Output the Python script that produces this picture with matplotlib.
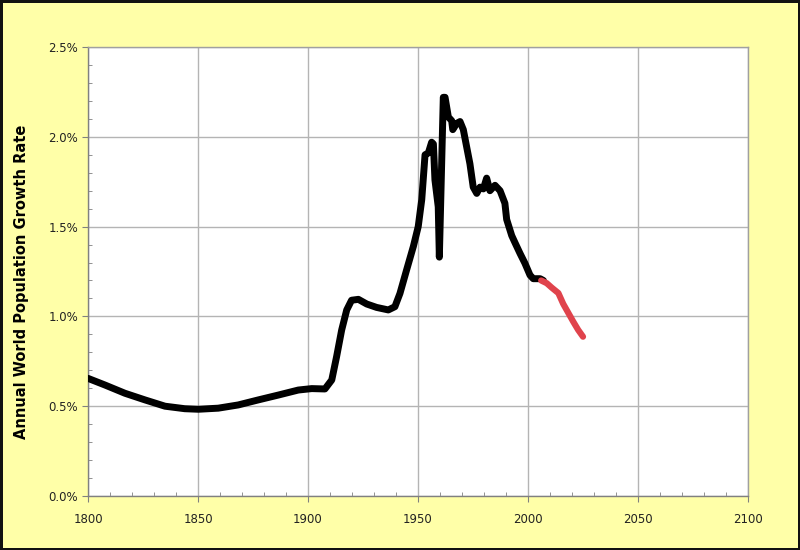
import numpy as np
import matplotlib.pyplot as plt
from matplotlib.ticker import MultipleLocator, FuncFormatter

# estimated annual world population growth rate (%)
years_hist = [1800, 1807.7, 1816.8, 1825.9, 1835, 1844, 1850.2, 1859.2,
              1868.3, 1877.4, 1886.5, 1895.6, 1901.7, 1907.7, 1910.8, 1913,
              1915.3, 1917.6, 1919.8, 1922.9, 1926.7, 1931.2, 1936.5, 1939.5,
              1941.8, 1944.8, 1947.9, 1950.1, 1951.7, 1953.2, 1954.7, 1956.2,
              1957, 1957.7, 1959.2, 1959.7, 1961.5, 1962.3, 1963.8, 1965.3,
              1965.8, 1967.6, 1969.1, 1970.6, 1972.1, 1973.6, 1975.1, 1976.7,
              1978.2, 1979.7, 1981.2, 1982.7, 1985, 1987.3, 1989.5, 1990.3,
              1992.6, 1994.1, 1996.4, 1998.6, 2000.9, 2002.4, 2005.5, 2007]
rate_hist = [0.655, 0.618, 0.572, 0.535, 0.50, 0.486, 0.483, 0.489,
             0.507, 0.535, 0.562, 0.59, 0.598, 0.596, 0.646, 0.776,
             0.924, 1.036, 1.09, 1.095, 1.069, 1.05, 1.036, 1.054,
             1.128, 1.258, 1.39, 1.50, 1.65, 1.90, 1.91, 1.97,
             1.96, 1.76, 1.61, 1.33, 2.22, 2.22, 2.11, 2.09,
             2.04, 2.075, 2.085, 2.04, 1.945, 1.85, 1.72, 1.685,
             1.72, 1.71, 1.77, 1.70, 1.73, 1.70, 1.63, 1.54,
             1.45, 1.41, 1.35, 1.296, 1.23, 1.21, 1.21, 1.20]

years_proj = [2006, 2008.5, 2010.8, 2013.8, 2016, 2018.3, 2020.6, 2022.8, 2025]
rate_proj = [1.20, 1.185, 1.16, 1.13, 1.07, 1.02, 0.97, 0.925, 0.887]

bg = '#FFFFA8'

fig = plt.figure(figsize=(8, 5.5), dpi=100, facecolor=bg,
                 edgecolor='#111111', linewidth=2.5)
ax = fig.add_axes([0.11, 0.0982, 0.825, 0.8163])
ax.set_facecolor('white')

ax.plot(years_hist, rate_hist, color='black', lw=5, solid_joinstyle='round',
        solid_capstyle='round', zorder=3)
ax.plot(years_proj, rate_proj, color='#E0434C', lw=4.5, solid_joinstyle='round',
        solid_capstyle='round', zorder=3)

ax.set_xlim(1800, 2100)
ax.set_ylim(0, 2.5)
ax.xaxis.set_major_locator(MultipleLocator(50))
ax.xaxis.set_minor_locator(MultipleLocator(10))
ax.yaxis.set_major_locator(MultipleLocator(0.5))
ax.yaxis.set_minor_locator(MultipleLocator(0.1))
ax.yaxis.set_major_formatter(FuncFormatter(lambda v, p: f'{v:.1f}%'))

ax.grid(True, which='major', color='#B4B4B4', lw=1)
ax.set_axisbelow(True)
for s in ax.spines.values():
    s.set_color('#A0A0A0')
    s.set_linewidth(1)
ax.spines['left'].set_color('#808080')
ax.spines['bottom'].set_color('#808080')

ax.tick_params(which='major', direction='out', length=4, color='#808080',
               labelsize=8.5, labelcolor='#222222', pad=3)
ax.tick_params(axis='x', which='major', pad=8)
ax.tick_params(which='minor', direction='in', length=3, color='#808080')
ax.tick_params(top=False, right=False, which='both')

ax.set_ylabel('Annual World Population Growth Rate', fontsize=10.5,
              fontweight='bold')
ax.yaxis.set_label_coords(-0.089, 0.477)

fig.savefig('out.png', dpi=100, facecolor=bg, edgecolor='#111111')
